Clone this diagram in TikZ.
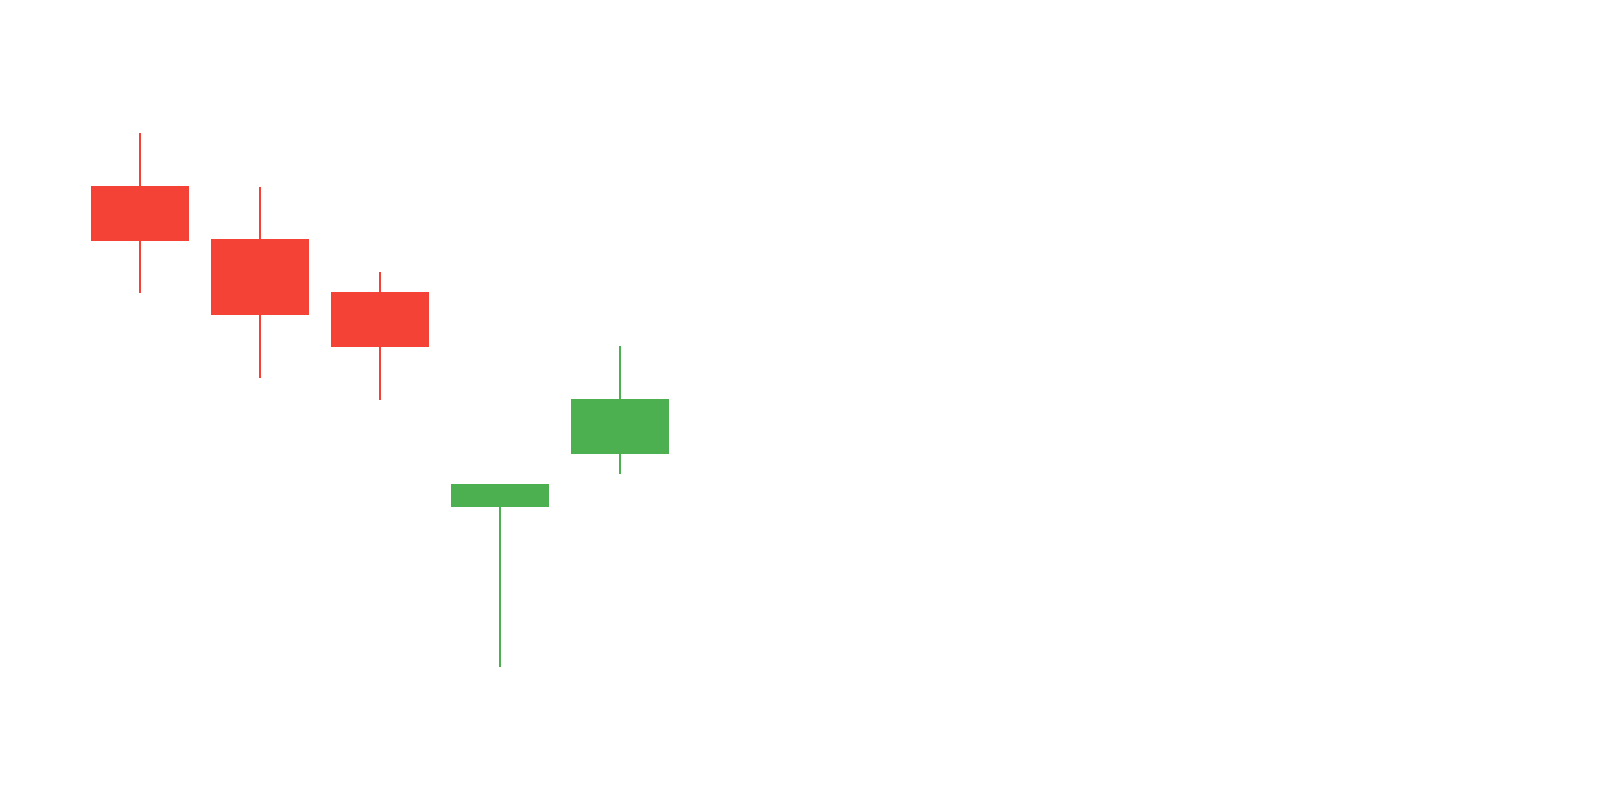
\documentclass[tikz,border=0pt]{standalone}
\usepackage{tikz}
\usepackage{xcolor}
\definecolor{downred}{HTML}{F44336}
\definecolor{upgreen}{HTML}{4CAF50}

\begin{document}
\begin{tikzpicture}[scale=0.1]
\tikzstyle{wick}=[line width=0.57pt]
\useasboundingbox (0,0) rectangle (160,-80);
\draw [downred,wick] (14,-13.3) -- (14,-29.3);
\fill [downred] (9.1,-18.57) rectangle (18.9,-24.07);
\draw [downred,wick] (26,-18.67) -- (26,-37.83);
\fill [downred] (21.1,-23.9) rectangle (30.9,-31.53);
\draw [downred,wick] (38,-27.2) -- (38,-40);
\fill [downred] (33.1,-29.23) rectangle (42.9,-34.73);
\draw [upgreen,wick] (50,-48.43) -- (50,-66.67);
\fill [upgreen] (45.1,-48.43) rectangle (54.9,-50.73);
\draw [upgreen,wick] (62,-34.63) -- (62,-47.43);
\fill [upgreen] (57.1,-39.9) rectangle (66.9,-45.43);
\end{tikzpicture}
\end{document}
